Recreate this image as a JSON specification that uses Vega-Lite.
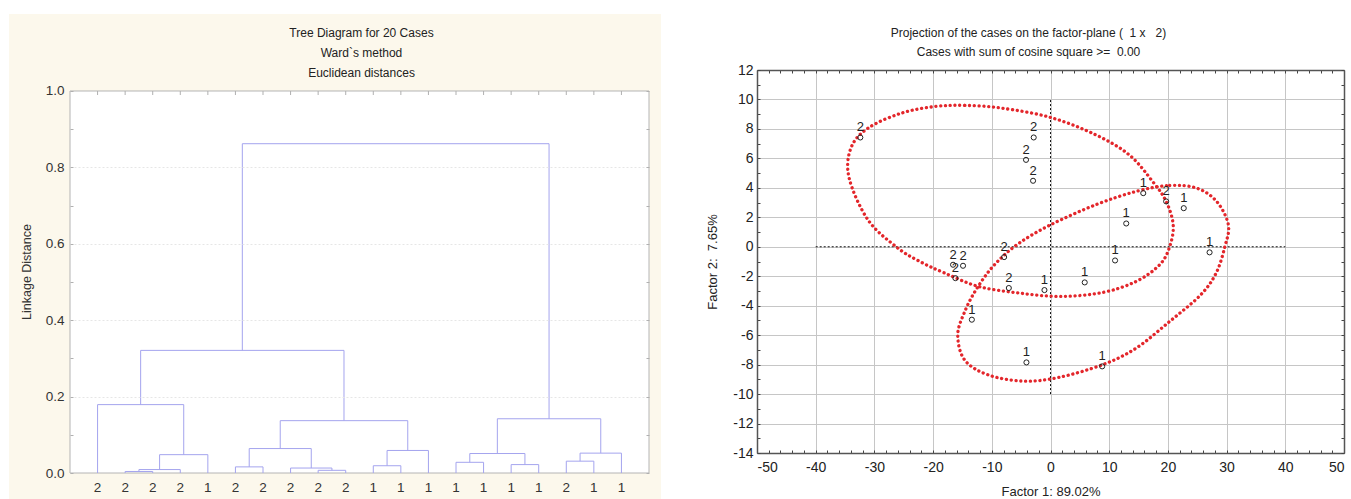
{
  "$schema": "https://vega.github.io/schema/vega-lite/v6.json",
  "background": "white",
  "padding": {"left": 8, "top": 13, "right": 0, "bottom": 0},
  "spacing": 0,
  "config": {
    "font": "Liberation Sans",
    "view": {"stroke": null},
    "axis": {"labelFont": "Liberation Sans", "titleFont": "Liberation Sans", "titleFontWeight": "normal", "labelColor": "#333", "titleColor": "#333"},
    "title": {"font": "Liberation Sans", "fontSize": 12, "fontWeight": "normal", "color": "#222"}
  },
  "datasets": {
    "panel": [{"name": "panel"}],
    "merges": [
      {"l": 2, "r": 3, "h": 0.004, "hl": 0, "hr": 0},
      {"l": 2.5, "r": 4, "h": 0.009, "hl": 0.004, "hr": 0},
      {"l": 3.25, "r": 5, "h": 0.048, "hl": 0.009, "hr": 0},
      {"l": 1, "r": 4.125, "h": 0.179, "hl": 0, "hr": 0.048},
      {"l": 6, "r": 7, "h": 0.016, "hl": 0, "hr": 0},
      {"l": 9, "r": 10, "h": 0.007, "hl": 0, "hr": 0},
      {"l": 8, "r": 9.5, "h": 0.013, "hl": 0, "hr": 0.007},
      {"l": 6.5, "r": 8.75, "h": 0.064, "hl": 0.016, "hr": 0.013},
      {"l": 11, "r": 12, "h": 0.019, "hl": 0, "hr": 0},
      {"l": 11.5, "r": 13, "h": 0.059, "hl": 0.019, "hr": 0},
      {"l": 7.625, "r": 12.25, "h": 0.137, "hl": 0.064, "hr": 0.059},
      {"l": 2.5625, "r": 9.9375, "h": 0.321, "hl": 0.179, "hr": 0.137},
      {"l": 14, "r": 15, "h": 0.028, "hl": 0, "hr": 0},
      {"l": 16, "r": 17, "h": 0.022, "hl": 0, "hr": 0},
      {"l": 14.5, "r": 16.5, "h": 0.051, "hl": 0.028, "hr": 0.022},
      {"l": 18, "r": 19, "h": 0.031, "hl": 0, "hr": 0},
      {"l": 18.5, "r": 20, "h": 0.052, "hl": 0.031, "hr": 0},
      {"l": 15.5, "r": 19.25, "h": 0.142, "hl": 0.051, "hr": 0.052},
      {"l": 6.25, "r": 17.375, "h": 0.862, "hl": 0.321, "hr": 0.142}
    ],
    "leaves": [
      {"leaf": 1, "cls": "2"}, {"leaf": 2, "cls": "2"}, {"leaf": 3, "cls": "2"}, {"leaf": 4, "cls": "2"},
      {"leaf": 5, "cls": "1"}, {"leaf": 6, "cls": "2"}, {"leaf": 7, "cls": "2"}, {"leaf": 8, "cls": "2"},
      {"leaf": 9, "cls": "2"}, {"leaf": 10, "cls": "2"}, {"leaf": 11, "cls": "1"}, {"leaf": 12, "cls": "1"},
      {"leaf": 13, "cls": "1"}, {"leaf": 14, "cls": "1"}, {"leaf": 15, "cls": "1"}, {"leaf": 16, "cls": "1"},
      {"leaf": 17, "cls": "1"}, {"leaf": 18, "cls": "2"}, {"leaf": 19, "cls": "1"}, {"leaf": 20, "cls": "1"}
    ],
    "cases": [
      {"f1": -32.4, "f2": 7.42, "cls": "2"},
      {"f1": -2.86, "f2": 7.42, "cls": "2"},
      {"f1": -4.17, "f2": 5.9, "cls": "2"},
      {"f1": -2.97, "f2": 4.48, "cls": "2"},
      {"f1": 15.8, "f2": 3.64, "cls": "1"},
      {"f1": 19.7, "f2": 3.08, "cls": "2"},
      {"f1": 22.7, "f2": 2.62, "cls": "1"},
      {"f1": 12.9, "f2": 1.58, "cls": "1"},
      {"f1": 27.1, "f2": -0.38, "cls": "1"},
      {"f1": 11.0, "f2": -0.93, "cls": "1"},
      {"f1": -7.9, "f2": -0.7, "cls": "2"},
      {"f1": -16.6, "f2": -1.22, "cls": "2"},
      {"f1": -14.9, "f2": -1.29, "cls": "2"},
      {"f1": -16.2, "f2": -2.13, "cls": "2"},
      {"f1": -7.1, "f2": -2.8, "cls": "2"},
      {"f1": -1.03, "f2": -2.94, "cls": "1"},
      {"f1": 5.83, "f2": -2.42, "cls": "1"},
      {"f1": -13.4, "f2": -4.95, "cls": "1"},
      {"f1": -4.1, "f2": -7.85, "cls": "1"},
      {"f1": 8.8, "f2": -8.12, "cls": "1"}
    ],
    "ellipses": [
      {"grp": "2", "i": 0, "f1": -19.7, "f2": 9.52},
      {"grp": "2", "i": 1, "f1": -14.6, "f2": 9.6},
      {"grp": "2", "i": 2, "f1": -8.3, "f2": 9.41},
      {"grp": "2", "i": 3, "f1": 0, "f2": 8.78},
      {"grp": "2", "i": 4, "f1": 7.7, "f2": 7.6},
      {"grp": "2", "i": 5, "f1": 13.4, "f2": 6.24},
      {"grp": "2", "i": 6, "f1": 17.4, "f2": 4.43},
      {"grp": "2", "i": 7, "f1": 19.7, "f2": 3.08},
      {"grp": "2", "i": 8, "f1": 20.9, "f2": 1.49},
      {"grp": "2", "i": 9, "f1": 20.3, "f2": 0},
      {"grp": "2", "i": 10, "f1": 18.6, "f2": -1.22},
      {"grp": "2", "i": 11, "f1": 14.6, "f2": -2.35},
      {"grp": "2", "i": 12, "f1": 8.9, "f2": -3.1},
      {"grp": "2", "i": 13, "f1": 1.7, "f2": -3.37},
      {"grp": "2", "i": 14, "f1": -5.4, "f2": -3.14},
      {"grp": "2", "i": 15, "f1": -12.3, "f2": -2.69},
      {"grp": "2", "i": 16, "f1": -18, "f2": -1.79},
      {"grp": "2", "i": 17, "f1": -22.5, "f2": -0.95},
      {"grp": "2", "i": 18, "f1": -26.3, "f2": 0},
      {"grp": "2", "i": 19, "f1": -31.1, "f2": 1.83},
      {"grp": "2", "i": 20, "f1": -34.3, "f2": 4.66},
      {"grp": "2", "i": 21, "f1": -34, "f2": 6.7},
      {"grp": "2", "i": 22, "f1": -31.1, "f2": 8.05},
      {"grp": "2", "i": 23, "f1": -25.4, "f2": 9.07},
      {"grp": "1", "i": 0, "f1": 14.6, "f2": 3.76},
      {"grp": "1", "i": 1, "f1": 20.3, "f2": 4.16},
      {"grp": "1", "i": 2, "f1": 24.9, "f2": 3.98},
      {"grp": "1", "i": 3, "f1": 28.3, "f2": 3.08},
      {"grp": "1", "i": 4, "f1": 30.3, "f2": 1.49},
      {"grp": "1", "i": 5, "f1": 29.7, "f2": 0},
      {"grp": "1", "i": 6, "f1": 28.2, "f2": -1.8},
      {"grp": "1", "i": 7, "f1": 25.5, "f2": -3.3},
      {"grp": "1", "i": 8, "f1": 20.3, "f2": -5.07},
      {"grp": "1", "i": 9, "f1": 14.6, "f2": -6.88},
      {"grp": "1", "i": 10, "f1": 8.9, "f2": -8.0},
      {"grp": "1", "i": 11, "f1": 1.4, "f2": -8.87},
      {"grp": "1", "i": 12, "f1": -4.6, "f2": -9.12},
      {"grp": "1", "i": 13, "f1": -10.6, "f2": -8.7},
      {"grp": "1", "i": 14, "f1": -14.6, "f2": -7.7},
      {"grp": "1", "i": 15, "f1": -15.8, "f2": -6.0},
      {"grp": "1", "i": 16, "f1": -14.6, "f2": -4.39},
      {"grp": "1", "i": 17, "f1": -12.5, "f2": -2.8},
      {"grp": "1", "i": 18, "f1": -9.5, "f2": -1.2},
      {"grp": "1", "i": 19, "f1": -5.5, "f2": 0.2},
      {"grp": "1", "i": 20, "f1": 0, "f2": 1.49},
      {"grp": "1", "i": 21, "f1": 7.7, "f2": 2.85}
    ],
    "cross": [
      {"x1": -40, "x2": 40, "y1": 0, "y2": 0},
      {"x1": 0, "x2": 0, "y1": -10, "y2": 10}
    ]
  },
  "hconcat": [
    {
      "width": 579,
      "height": 403,
      "title": {"text": ["Tree Diagram for 20 Cases", "Ward`s method", "Euclidean distances"], "offset": -66, "lineHeight": 20, "dx": 2},
      "resolve": {"axis": {"x": "independent", "y": "independent"}},
      "layer": [
        {
          "data": {"name": "panel"},
          "mark": {"type": "rect", "fill": "#fcf8ec"},
          "encoding": {
            "x": {"datum": -2.2125, "type": "quantitative", "scale": {"domain": [0, 21], "nice": false, "zero": false}, "axis": null},
            "x2": {"datum": 21.435},
            "y": {"datum": 1.2016, "type": "quantitative", "scale": {"domain": [0, 1.05497], "nice": false, "zero": false}, "axis": null},
            "y2": {"datum": -0.0707}
          }
        },
        {
          "data": {"name": "panel"},
          "mark": {"type": "rect", "fill": "#ffffff", "stroke": "#b4b4b4", "strokeWidth": 1},
          "encoding": {
            "x": {"datum": 0, "type": "quantitative", "scale": {"domain": [0, 21], "nice": false, "zero": false}, "axis": null},
            "x2": {"datum": 21},
            "y": {"datum": 0, "type": "quantitative", "scale": {"domain": [0, 1.05497], "nice": false, "zero": false}, "axis": null},
            "y2": {"datum": 1}
          }
        },
        {
          "data": {"name": "merges"},
          "mark": {"type": "rule", "color": "#a4a4ee", "strokeWidth": 1},
          "encoding": {
            "x": {"field": "l", "type": "quantitative", "scale": {"domain": [0, 21], "nice": false, "zero": false}, "axis": null},
            "x2": {"field": "r"},
            "y": {"field": "h", "type": "quantitative", "scale": {"domain": [0, 1.05497], "nice": false, "zero": false},
              "axis": {"orient": "left", "values": [0,0.1,0.2,0.3,0.4,0.5,0.6,0.7,0.8,0.9,1],
                "labelExpr": "round(datum.value*10) % 2 === 0 ? format(datum.value, '.1f') : ''",
                "tickSize": -3, "tickColor": "#b0b0b0", "domain": false, "grid": true,
                "gridColor": {"condition": {"test": "round(datum.value*10) % 2 === 0 && datum.value > 0 && datum.value < 1", "value": "#e6e6e6"}, "value": "transparent"},
                "gridDash": [2, 2], "labelFontSize": 13.5, "labelPadding": 9, "title": "Linkage Distance", "titleFontSize": 12.5, "titlePadding": 12, "zindex": 1}}
          }
        },
        {
          "data": {"name": "merges"},
          "mark": {"type": "rule", "color": "#a4a4ee", "strokeWidth": 1},
          "encoding": {
            "x": {"field": "l", "type": "quantitative", "scale": {"domain": [0, 21], "nice": false, "zero": false}, "axis": null},
            "y": {"field": "hl", "type": "quantitative", "scale": {"domain": [0, 1.05497], "nice": false, "zero": false},
              "axis": {"orient": "right", "values": [0,0.1,0.2,0.3,0.4,0.5,0.6,0.7,0.8,0.9,1], "labels": false, "tickSize": -3, "tickColor": "#b0b0b0", "domain": false, "grid": false, "title": null, "zindex": 1}},
            "y2": {"field": "h"}
          }
        },
        {
          "data": {"name": "merges"},
          "mark": {"type": "rule", "color": "#a4a4ee", "strokeWidth": 1},
          "encoding": {
            "x": {"field": "r", "type": "quantitative", "scale": {"domain": [0, 21], "nice": false, "zero": false}, "axis": null},
            "y": {"field": "hr", "type": "quantitative", "scale": {"domain": [0, 1.05497], "nice": false, "zero": false}, "axis": null},
            "y2": {"field": "h"}
          }
        },
        {
          "data": {"name": "leaves"},
          "mark": {"type": "tick", "orient": "vertical", "size": 4, "yOffset": 2, "thickness": 1, "color": "#b0b0b0", "opacity": 1},
          "encoding": {
            "x": {"field": "leaf", "type": "quantitative", "scale": {"domain": [0, 21], "nice": false, "zero": false}, "axis": null},
            "y": {"datum": 1, "type": "quantitative", "scale": {"domain": [0, 1.05497], "nice": false, "zero": false}, "axis": null}
          }
        },
        {
          "data": {"name": "leaves"},
          "mark": {"type": "text", "dy": 15, "fontSize": 13.5, "color": "#333", "baseline": "middle"},
          "encoding": {
            "x": {"field": "leaf", "type": "quantitative", "scale": {"domain": [0, 21], "nice": false, "zero": false}, "axis": null},
            "y": {"datum": 0, "type": "quantitative", "scale": {"domain": [0, 1.05497], "nice": false, "zero": false}, "axis": null},
            "text": {"field": "cls"}
          }
        }
      ]
    },
    {
      "width": 587,
      "height": 383,
      "title": {"text": ["Projection of the cases on the factor-plane ( \u00a01 x \u00a0 2)", "Cases with sum of cosine square >= \u00a00.00"], "offset": -45, "lineHeight": 19, "frame": "group", "dx": -22},
      "resolve": {"axis": {"x": "independent", "y": "independent"}},
      "layer": [
        {
          "data": {"name": "panel"},
          "mark": {"type": "rect", "fill": "#ffffff", "opacity": 0},
          "encoding": {
            "x": {"datum": -66.35, "type": "quantitative", "scale": {"domain": [-50, 50], "nice": false, "zero": false}, "axis": null},
            "x2": {"datum": 51.36},
            "y": {"datum": 15.8, "type": "quantitative", "scale": {"domain": [-14, 12], "nice": false, "zero": false}, "axis": null},
            "y2": {"datum": -17.19}
          }
        },
        {
          "data": {"name": "cross"},
          "mark": {"type": "rule", "color": "#111111", "strokeDash": [2, 2], "strokeWidth": 1},
          "encoding": {
            "x": {"field": "x1", "type": "quantitative", "scale": {"domain": [-50, 50], "nice": false, "zero": false},
              "axis": {"orient": "bottom", "values": [-50,-48,-46,-44,-42,-40,-38,-36,-34,-32,-30,-28,-26,-24,-22,-20,-18,-16,-14,-12,-10,-8,-6,-4,-2,0,2,4,6,8,10,12,14,16,18,20,22,24,26,28,30,32,34,36,38,40,42,44,46,48,50],
                "labelExpr": "datum.value % 10 === 0 ? '' + datum.value : ''",
                "grid": true, "gridColor": {"condition": {"test": "datum.value % 10 === 0", "value": "#c6c6c6"}, "value": "transparent"},
                "tickSize": -3, "tickColor": "#444", "domainColor": "#555", "domainWidth": 1.5,
                "labelFontSize": 14, "labelPadding": 10, "labelColor": "#222", "title": "Factor 1: 89.02%", "titleFontSize": 13, "titlePadding": 11, "titleColor": "#222"}},
            "x2": {"field": "x2"},
            "y": {"field": "y1", "type": "quantitative", "scale": {"domain": [-14, 12], "nice": false, "zero": false},
              "axis": {"orient": "left", "values": [-14,-13,-12,-11,-10,-9,-8,-7,-6,-5,-4,-3,-2,-1,0,1,2,3,4,5,6,7,8,9,10,11,12],
                "labelExpr": "datum.value % 2 === 0 ? '' + datum.value : ''",
                "grid": true, "gridColor": {"condition": {"test": "datum.value % 2 === 0", "value": "#c6c6c6"}, "value": "transparent"},
                "tickSize": -3, "tickColor": "#444", "domainColor": "#555", "domainWidth": 1.5,
                "labelFontSize": 14, "labelPadding": 7, "labelColor": "#222", "title": "Factor 2: \u00a07.65%", "titleFontSize": 13, "titlePadding": 13, "titleColor": "#222"}},
            "y2": {"field": "y2"}
          }
        },
        {
          "data": {"name": "ellipses"},
          "mark": {"type": "line", "interpolate": "cardinal-closed", "stroke": "#e3262b", "strokeWidth": 3.3, "strokeDash": [0.1, 4.7], "strokeCap": "round"},
          "encoding": {
            "x": {"field": "f1", "type": "quantitative", "scale": {"domain": [-50, 50], "nice": false, "zero": false},
              "axis": {"orient": "top", "values": [-50,-48,-46,-44,-42,-40,-38,-36,-34,-32,-30,-28,-26,-24,-22,-20,-18,-16,-14,-12,-10,-8,-6,-4,-2,0,2,4,6,8,10,12,14,16,18,20,22,24,26,28,30,32,34,36,38,40,42,44,46,48,50],
                "labels": false, "grid": false, "tickSize": -3, "tickColor": "#444", "domainColor": "#555", "domainWidth": 1.5, "title": null}},
            "y": {"field": "f2", "type": "quantitative", "scale": {"domain": [-14, 12], "nice": false, "zero": false},
              "axis": {"orient": "right", "values": [-14,-13,-12,-11,-10,-9,-8,-7,-6,-5,-4,-3,-2,-1,0,1,2,3,4,5,6,7,8,9,10,11,12],
                "labels": false, "grid": false, "tickSize": -3, "tickColor": "#444", "domainColor": "#555", "domainWidth": 1.5, "title": null}},
            "detail": {"field": "grp"},
            "order": {"field": "i", "type": "quantitative"}
          }
        },
        {
          "data": {"name": "cases"},
          "mark": {"type": "point", "shape": "circle", "filled": false, "stroke": "#222", "strokeWidth": 1, "size": 26, "opacity": 1},
          "encoding": {
            "x": {"field": "f1", "type": "quantitative", "scale": {"domain": [-50, 50], "nice": false, "zero": false}, "axis": null},
            "y": {"field": "f2", "type": "quantitative", "scale": {"domain": [-14, 12], "nice": false, "zero": false}, "axis": null}
          }
        },
        {
          "data": {"name": "cases"},
          "mark": {"type": "text", "dy": -10, "fontSize": 13, "color": "#222", "baseline": "middle"},
          "encoding": {
            "x": {"field": "f1", "type": "quantitative", "scale": {"domain": [-50, 50], "nice": false, "zero": false}, "axis": null},
            "y": {"field": "f2", "type": "quantitative", "scale": {"domain": [-14, 12], "nice": false, "zero": false}, "axis": null},
            "text": {"field": "cls"}
          }
        }
      ]
    }
  ]
}
